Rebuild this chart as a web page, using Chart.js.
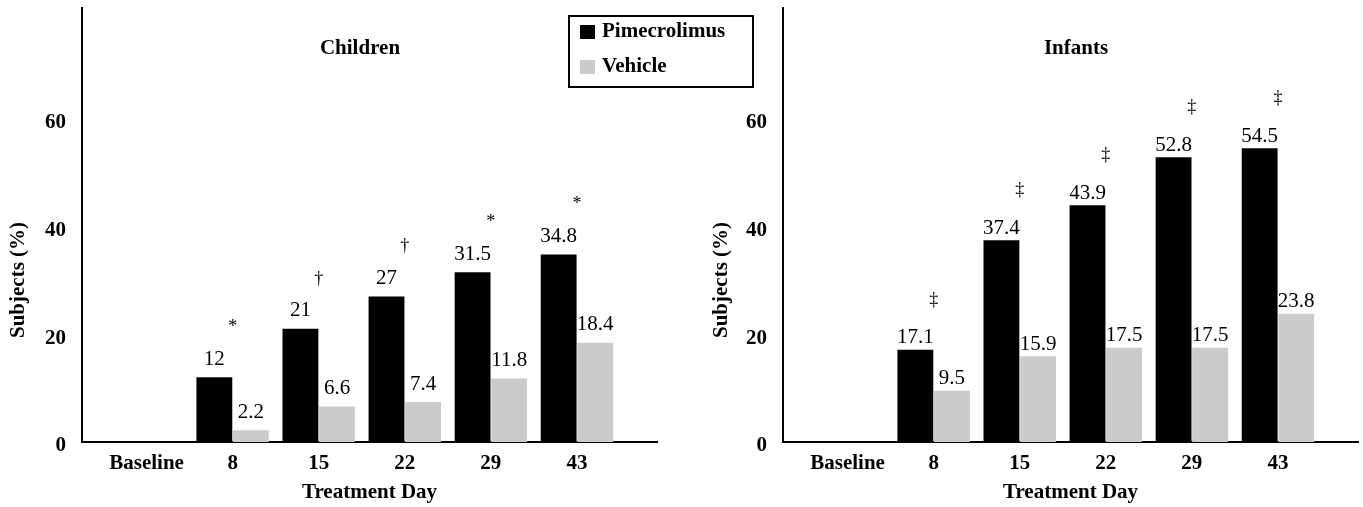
<!DOCTYPE html>
<html>
<head>
<meta charset="utf-8">
<script src="https://cdn.jsdelivr.net/npm/chart.js@4.4.1/dist/chart.umd.min.js"></script>
<style>
  html, body { margin: 0; padding: 0; background: #fff; }
  #wrap { position: relative; width: 1363px; height: 507px; overflow: hidden; }
  canvas { position: absolute; top: 0; }
  #left { left: 0; z-index: 2; }
  #right { left: 700px; z-index: 1; }
</style>
</head>
<body>
<div id="wrap">
  <canvas id="left" width="760" height="507"></canvas>
  <canvas id="right" width="663" height="507"></canvas>
</div>
<script>
const days = ["Baseline", "8", "15", "22", "29", "43"];
const yTicks = [0, 20, 40, 60];

const childPime = [null, 12, 21, 27, 31.5, 34.8];
const childVehicle = [null, 2.2, 6.6, 7.4, 11.8, 18.4];
const childSig = ["", "*", "†", "†", "*", "*"];

const infantPime = [null, 17.1, 37.4, 43.9, 52.8, 54.5];
const infantVehicle = [null, 9.5, 15.9, 17.5, 17.5, 23.8];
const infantSig = ["", "‡", "‡", "‡", "‡", "‡"];

const serif = "'Liberation Serif', 'Times New Roman', serif";
const black = "#000000";
const grey = "#cbcbcb";

const toPoints = (vals) => vals.map((v, i) => ({ x: i, y: v }));

// labels, markers, titles and legend drawn on top of the bars
const decor = {
  id: "decor",
  afterDatasetsDraw(chart, args, o) {
    const ctx = chart.ctx;
    const xs = chart.scales.x;
    ctx.save();
    ctx.fillStyle = "#000";
    ctx.textAlign = "center";
    ctx.textBaseline = "middle";

    ctx.font = "21px " + serif;
    chart.data.datasets.forEach((ds, d) => {
      const meta = chart.getDatasetMeta(d);
      meta.data.forEach((bar, i) => {
        const v = ds.data[i].y;
        if (v == null) return;
        ctx.fillText(String(v), bar.x, bar.y - o.labelGap);
      });
    });

    ctx.font = "18px " + serif;
    const top = chart.getDatasetMeta(0).data;
    o.sig.forEach((s, i) => {
      if (!s) return;
      ctx.fillText(s, xs.getPixelForValue(i), top[i].y - o.sigGap);
    });

    ctx.font = "bold 21px " + serif;
    ctx.fillText(o.title, o.titleX, o.titleY);

    ctx.save();
    ctx.translate(o.yTitleX, o.yTitleY);
    ctx.rotate(-Math.PI / 2);
    ctx.fillText("Subjects (%)", 0, 0);
    ctx.restore();

    if (o.legend) {
      const L = o.legend;
      ctx.lineWidth = 2;
      ctx.strokeStyle = "#000";
      ctx.strokeRect(L.x, L.y, L.w, L.h);
      ctx.textAlign = "left";
      chart.data.datasets.forEach((ds, d) => {
        const cy = L.y + 16 + d * 35;
        ctx.fillStyle = ds.backgroundColor;
        ctx.fillRect(L.x + 11, cy - 7, 15, 14);
        ctx.fillStyle = "#000";
        ctx.fillText(ds.label, L.x + 33, cy);
      });
    }
    ctx.restore();
  },
};

function makeChart(id, pime, vehicle, opts) {
  return new Chart(document.getElementById(id), {
    type: "bar",
    data: {
      datasets: [
        { label: "Pimecrolimus", data: toPoints(pime), backgroundColor: black },
        { label: "Vehicle", data: toPoints(vehicle), backgroundColor: grey },
      ],
    },
    options: {
      responsive: false,
      animation: false,
      events: [],
      categoryPercentage: 0.85,
      barPercentage: 0.98,
      layout: { padding: { top: 8, left: 0, bottom: 0, right: opts.padRight } },
      scales: {
        x: {
          type: "linear",
          offset: false,
          min: -0.75,
          max: 5.93,
          afterBuildTicks: (s) => { s.ticks = days.map((d, i) => ({ value: i })); },
          afterFit: (s) => {
            s.height = 65;
            s.paddingLeft = 0;
            s.paddingRight = 0;
          },
          grid: { display: false, drawTicks: false },
          border: { display: true, color: "#000", width: 2 },
          ticks: {
            autoSkip: false,
            maxRotation: 0,
            padding: 9,
            color: "#000",
            font: { family: serif, size: 21, weight: "bold" },
            callback: (v) => days[v],
          },
          title: {
            display: true,
            text: "Treatment Day",
            color: "#000",
            font: { family: serif, size: 21, weight: "bold" },
            padding: { top: 0, bottom: 2 },
          },
        },
        y: {
          min: 0,
          max: 80.5,
          afterBuildTicks: (s) => { s.ticks = yTicks.map((v) => ({ value: v })); },
          afterFit: (s) => {
            s.width = opts.yWidth;
            s.paddingTop = 0;
            s.paddingBottom = 0;
          },
          grid: { display: false, drawTicks: false },
          border: { display: true, color: "#000", width: 2 },
          ticks: {
            padding: 16,
            labelOffset: 4,
            color: "#000",
            font: { family: serif, size: 21, weight: "bold" },
          },
        },
      },
      plugins: {
        legend: { display: false },
        tooltip: { enabled: false },
        decor: {
          sig: opts.sig,
          labelGap: opts.labelGap,
          sigGap: 50,
          title: opts.title,
          titleX: opts.titleX,
          titleY: 49,
          yTitleX: opts.yTitleX,
          yTitleY: 280,
          legend: opts.legend,
        },
      },
    },
    plugins: [decor],
  });
}

makeChart("left", childPime, childVehicle, {
  padRight: 103,
  yWidth: 82,
  sig: childSig,
  labelGap: 18,
  title: "Children",
  titleX: 360,
  yTitleX: 19,
  legend: { x: 569, y: 16, w: 184, h: 71 },
});

makeChart("right", infantPime, infantVehicle, {
  padRight: 5,
  yWidth: 83,
  sig: infantSig,
  labelGap: 12,
  title: "Infants",
  titleX: 376,
  yTitleX: 22,
  legend: null,
});
</script>
</body>
</html>
